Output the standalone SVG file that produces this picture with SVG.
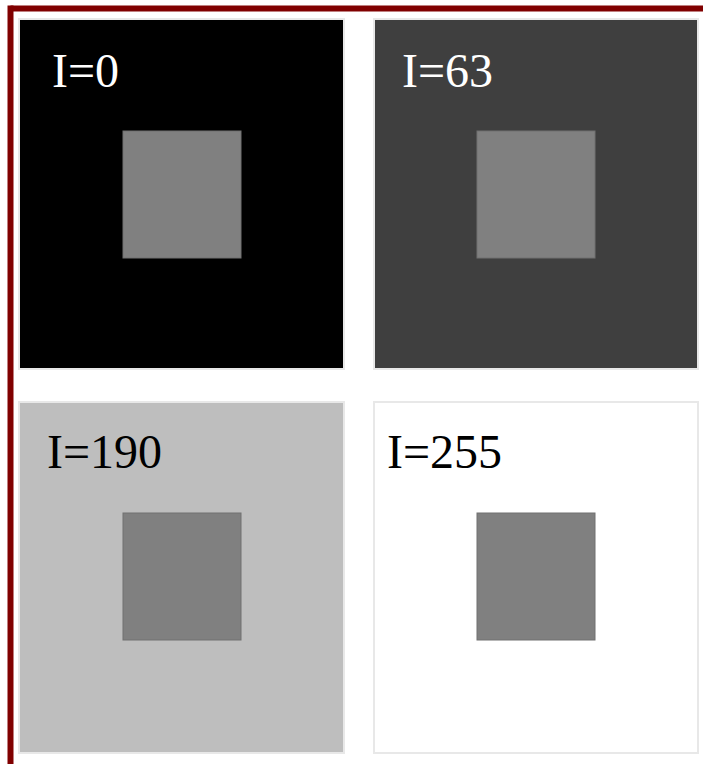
<svg xmlns="http://www.w3.org/2000/svg" width="703" height="764" viewBox="0 0 703 764">
<style>
.panel{stroke:#e8e8e8;stroke-width:2}
.sq{fill:#808080;stroke:#707070;stroke-width:1}
.lbl{font-family:"Liberation Serif","Times New Roman",serif;font-size:48px}
.frame{stroke:#800000;stroke-width:6;fill:none}
</style>
<rect width="703" height="764" fill="#ffffff"/>
<g id="frame">
<line class="frame" x1="10.5" y1="8.5" x2="703" y2="8.5"/>
<line class="frame" x1="10.5" y1="5.5" x2="10.5" y2="764"/>
</g>
<g id="panel-0">
<rect class="panel" x="19" y="19" width="325" height="350" fill="#000000"/>
<rect class="sq" x="123" y="131" width="118" height="127"/>
<text class="lbl" x="52" y="87" fill="#ffffff">I=0</text>
</g>
<g id="panel-63">
<rect class="panel" x="374" y="19" width="324" height="350" fill="#3f3f3f"/>
<rect class="sq" x="477" y="131" width="118" height="127"/>
<text class="lbl" x="402" y="87" fill="#ffffff">I=63</text>
</g>
<g id="panel-190">
<rect class="panel" x="19" y="402" width="325" height="351" fill="#bebebe"/>
<rect class="sq" x="123" y="513" width="118" height="127"/>
<text class="lbl" x="47" y="468" fill="#000000">I=190</text>
</g>
<g id="panel-255">
<rect class="panel" x="374" y="402" width="324" height="351" fill="#ffffff"/>
<rect class="sq" x="477" y="513" width="118" height="127"/>
<text class="lbl" x="387" y="468" fill="#000000">I=255</text>
</g>
</svg>
